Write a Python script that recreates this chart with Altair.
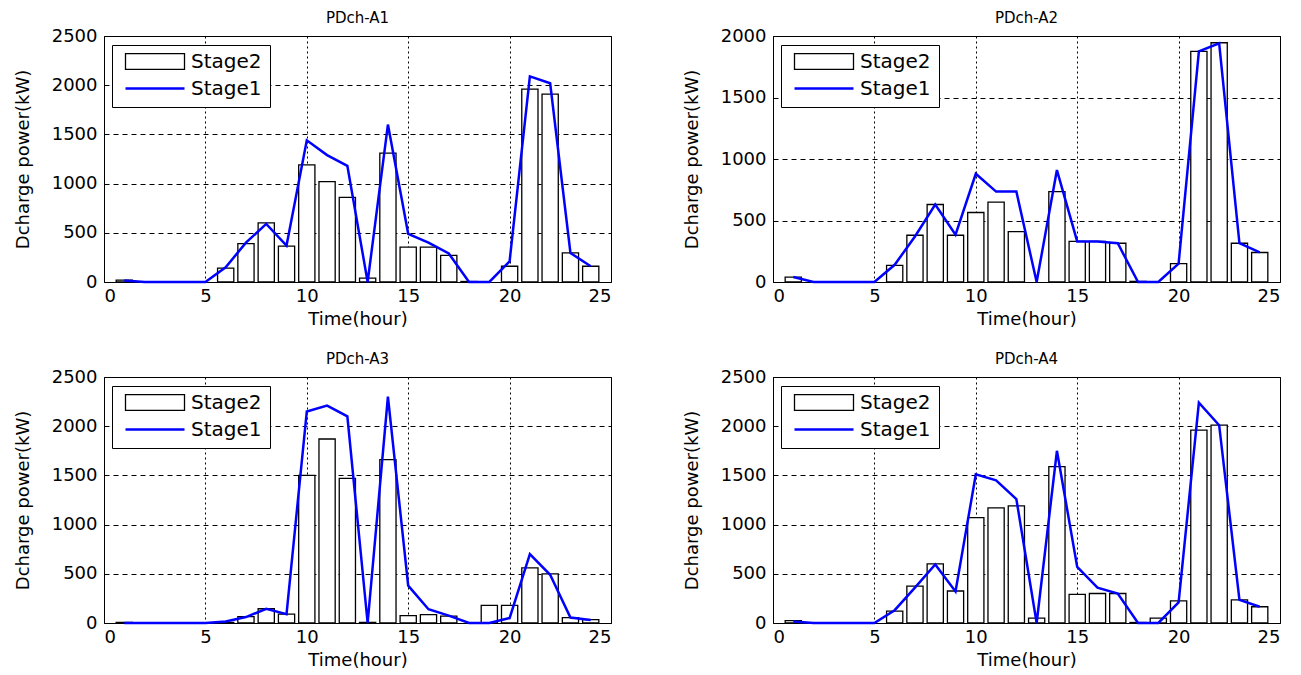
import altair as alt
import pandas as pd

HOURS = list(range(1, 25))
TITLES = ["PDch-A1", "PDch-A2", "PDch-A3", "PDch-A4"]
SERIES = ["Stage2", "Stage1"]
X_TICKS = [0, 5, 10, 15, 20, 25]
Y_MAX = [2500, 2000, 2500, 2500]

A1_STAGE2 = [20, 0, 0, 0, 0, 140, 390, 600, 365, 1190, 1020, 860, 40, 1310, 355, 355, 270, 5, 0, 160, 1960, 1910, 295, 160]
A1_STAGE1 = [15, 0, 0, 0, 0, 150, 400, 590, 370, 1440, 1290, 1180, 0, 1600, 490, 400, 290, 0, 0, 210, 2090, 2020, 295, 160]
A2_STAGE2 = [40, 0, 0, 0, 0, 135, 380, 630, 380, 565, 650, 410, 0, 735, 330, 330, 315, 5, 0, 150, 1875, 1945, 315, 240]
A2_STAGE1 = [40, 0, 0, 0, 0, 140, 370, 630, 385, 880, 735, 735, 0, 910, 330, 330, 315, 0, 0, 150, 1875, 1940, 315, 240]
A3_STAGE2 = [5, 0, 0, 0, 0, 5, 65, 145, 90, 1500, 1870, 1470, 5, 1660, 75, 85, 70, 0, 180, 180, 560, 500, 55, 35]
A3_STAGE1 = [0, 0, 0, 0, 0, 15, 60, 145, 90, 2150, 2210, 2100, 0, 2300, 380, 140, 75, 0, 0, 50, 700, 490, 55, 30]
A4_STAGE2 = [25, 0, 0, 0, 0, 120, 375, 600, 325, 1070, 1170, 1190, 50, 1590, 290, 300, 300, 5, 50, 225, 1960, 2010, 235, 165]
A4_STAGE1 = [15, 0, 0, 0, 0, 130, 360, 595, 320, 1510, 1450, 1260, 0, 1750, 570, 360, 300, 0, 0, 210, 2240, 2010, 235, 165]

FONT = "DejaVu Sans"
RECT_PATH = "M-1,-0.27H1V0.27H-1Z"
LINE_PATH = "M-1,0H1"
X_TITLE = "Time(hour)"
Y_TITLE = "Dcharge power(kW)"


def panel(title, s2, s1, ymax):
    df = pd.DataFrame({"hour": HOURS, "Stage2": s2, "Stage1": s1})
    xscale = alt.Scale(domain=[0, 25], nice=False, zero=False)
    xaxis = alt.Axis(values=X_TICKS, title=X_TITLE, format="d")
    yscale = alt.Scale(domain=[0, ymax], nice=False)
    yaxis = alt.Axis(values=list(range(0, ymax + 1, 500)), title=Y_TITLE, format="d")

    bars = (
        alt.Chart(df)
        .transform_filter("datum.Stage2 > 0")
        .transform_calculate(x0="datum.hour - 0.4", x1="datum.hour + 0.4")
        .mark_bar(fill="white", stroke="black", strokeWidth=1.3)
        .encode(
            x=alt.X("x0:Q", scale=xscale, axis=xaxis),
            x2="x1:Q",
            y=alt.Y("Stage2:Q", scale=yscale, axis=yaxis),
            y2=alt.datum(0),
        )
    )
    line = (
        alt.Chart(df)
        .mark_line(color="#0000ff", strokeWidth=2.5)
        .encode(
            x=alt.X("hour:Q", scale=xscale, axis=xaxis),
            y=alt.Y("Stage1:Q", scale=yscale, axis=yaxis),
        )
    )
    leg_props = dict(
        title=None, orient="none", legendX=8, legendY=9, direction="vertical",
        symbolSize=3481, clipHeight=17, rowPadding=6, padding=8,
        strokeColor="black", fillColor="white",
        labelFont=FONT, labelFontSize=20, labelColor="black",
        symbolOffset=4, labelOffset=5,
    )
    leg_df = pd.DataFrame({"series": SERIES, "hour": [0, 0], "val": [0, 0]})
    leg = (
        alt.Chart(leg_df)
        .transform_filter("datum.hour > 100")
        .mark_point(filled=False, opacity=1)
        .encode(
            x=alt.X("hour:Q", scale=xscale, axis=xaxis),
            y=alt.Y("val:Q", scale=yscale, axis=yaxis),
            shape=alt.Shape("series:N", scale=alt.Scale(domain=SERIES, range=[RECT_PATH, LINE_PATH]),
                            legend=alt.Legend(**leg_props)),
            stroke=alt.Stroke("series:N", scale=alt.Scale(domain=SERIES, range=["black", "#0000ff"]),
                              legend=alt.Legend(**leg_props)),
            strokeWidth=alt.StrokeWidth("series:N", scale=alt.Scale(domain=SERIES, range=[1.3, 2.5]),
                                        legend=alt.Legend(**leg_props)),
        )
    )
    return alt.layer(bars, line, leg).properties(title=title, width=507, height=246)


RES = dict(shape="independent", stroke="independent", strokeWidth="independent")

p1 = panel(TITLES[0], A1_STAGE2, A1_STAGE1, Y_MAX[0])
p2 = panel(TITLES[1], A2_STAGE2, A2_STAGE1, Y_MAX[1])
p3 = panel(TITLES[2], A3_STAGE2, A3_STAGE1, Y_MAX[2])
p4 = panel(TITLES[3], A4_STAGE2, A4_STAGE1, Y_MAX[3])

row1 = alt.hconcat(p1, p2, spacing=70).resolve_scale(**RES).resolve_legend(**RES)
row2 = alt.hconcat(p3, p4, spacing=70).resolve_scale(**RES).resolve_legend(**RES)

chart = (
    alt.vconcat(row1, row2, spacing=22)
    .resolve_scale(**RES)
    .resolve_legend(**RES)
    .properties(padding={"left": 5, "top": 2, "right": 5, "bottom": 5}, background="white")
    .configure(font=FONT)
    .configure_view(stroke="black", strokeWidth=1)
    .configure_axis(
        labelFont=FONT, labelFontSize=18, labelColor="black",
        titleFont=FONT, titleFontSize=18, titleFontWeight="normal", titleColor="black",
        grid=True, gridColor="black", gridWidth=1, gridOpacity=1,
        domain=False, ticks=False,
    )
    .configure_axisX(gridDash=[2, 3], labelPadding=5, titlePadding=5)
    .configure_axisY(gridDash=[5, 4], labelPadding=7, titlePadding=19)
    .configure_title(font=FONT, fontSize=15, fontWeight="normal", color="black", offset=1, anchor="middle")
)

chart.save("out.html", embed_options={"renderer": "svg", "actions": False})
